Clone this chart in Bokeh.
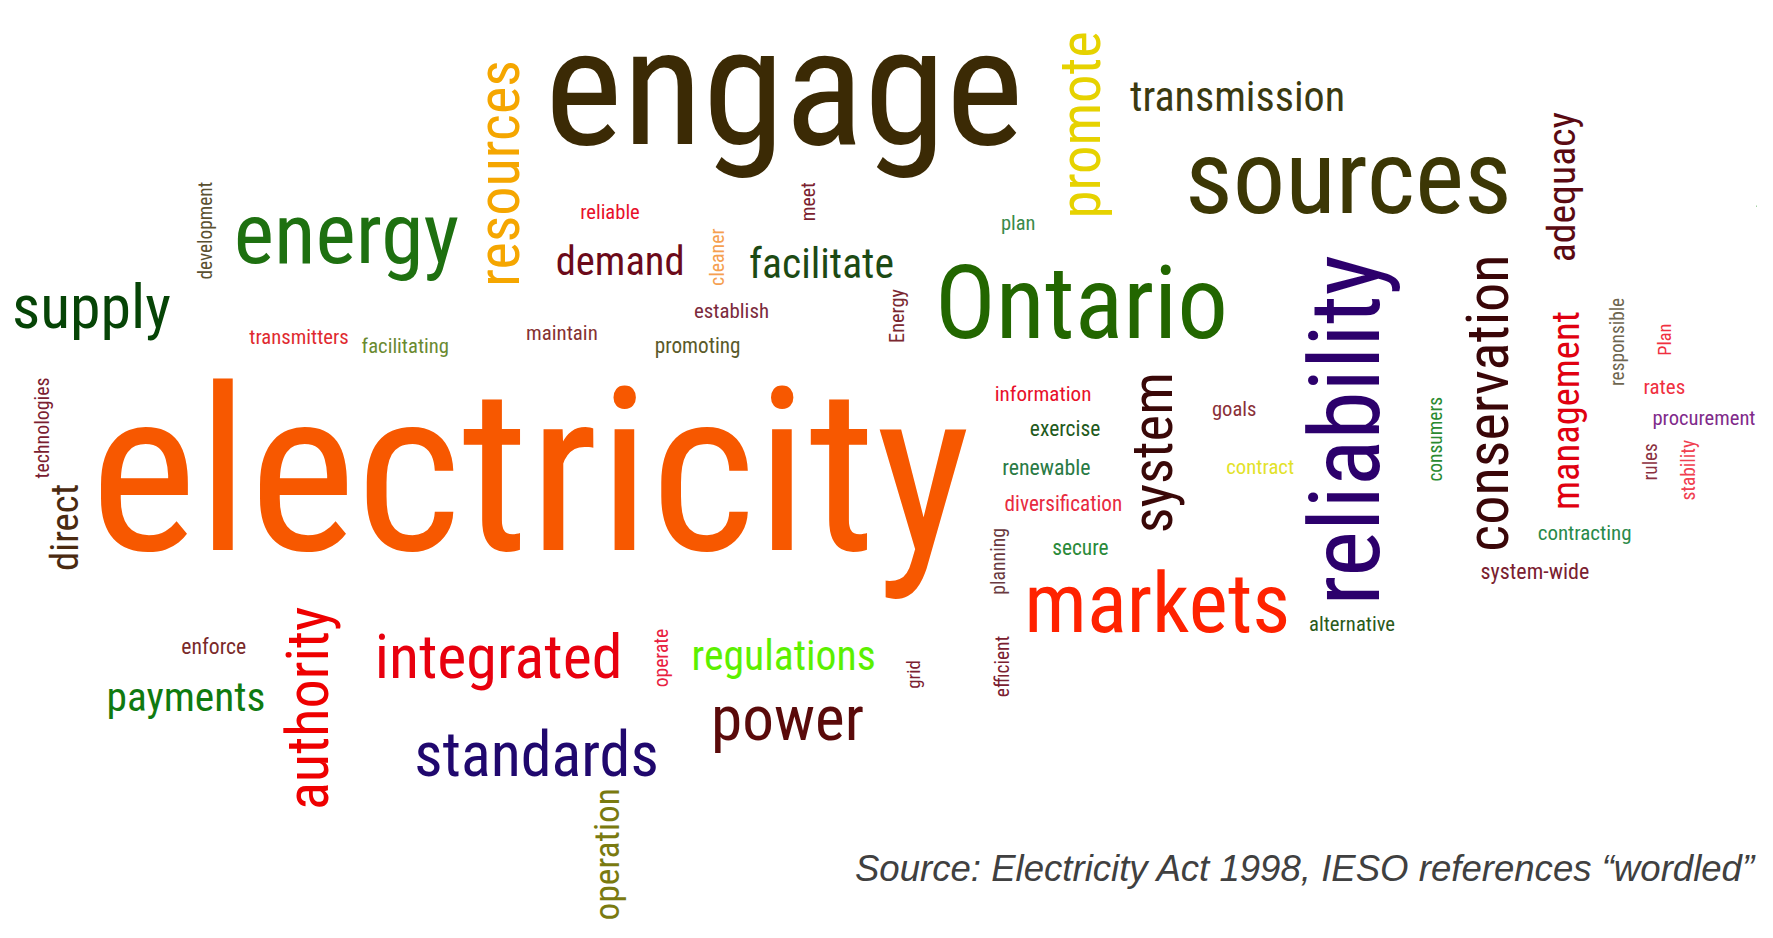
import math
from bokeh.plotting import figure
from bokeh.models import ColumnDataSource, Range1d
from bokeh.core.properties import value
from bokeh.embed import file_html
from bokeh.resources import INLINE

# ---- word cloud content ----
h_words = ["engage", "electricity", "sources", "transmission", "Ontario", "energy", "supply",
           "demand", "facilitate", "reliable", "transmitters", "facilitating", "maintain",
           "establish", "promoting", "plan", "information", "exercise", "renewable",
           "diversification", "goals", "contract", "secure", "markets", "alternative",
           "contracting", "system-wide", "rates", "procurement", "integrated", "regulations",
           "power", "standards", "payments", "enforce"]
h_colors = ["#3b2a05", "#f75800", "#3c3705", "#3b3a10", "#226600", "#1e7010", "#064406",
            "#6b0a1a", "#1c4a14", "#e8102a", "#e02a30", "#6a8a30", "#863232",
            "#7b2a3c", "#5a5a2a", "#3a8a4a", "#e8102a", "#1f5a20", "#2a7a45",
            "#e82a40", "#8a3038", "#e2e22a", "#2a8a3a", "#ff2200", "#2a5a1a",
            "#2a8a4a", "#7a2030", "#f03040", "#802a8a", "#e8000e", "#5cf000",
            "#5a0a0a", "#20086e", "#107a10", "#7a2a2a"]
# layout in reference pixels (1568-wide reference): centre x, centre of x-height band, advance
h_cx = [693, 468.5, 1192, 1094, 956, 306, 80.4, 548, 726, 539, 264, 358, 496.5, 646.5, 616.5,
        900, 922, 941.5, 925, 940, 1091, 1114, 955, 1023, 1195.3, 1401, 1357, 1471.5, 1506.5,
        440.5, 692.6, 696, 474, 164, 188.6]
h_cy = [83, 426.5, 161, 87, 272.5, 209.5, 274, 231.6, 234, 188, 298.5, 306.5, 294.8, 275.7,
        306, 197.5, 348.5, 379.5, 414, 445.5, 362.5, 413.5, 485, 536.7, 552, 471.7, 505.5,
        343, 370, 583, 581, 637.5, 669, 617.7, 572.4]
h_len = [414, 767, 283, 188, 258, 196, 137, 112, 126, 52, 88, 76, 63, 65, 75, 30, 84, 61, 77,
         103, 38.5, 60, 49, 234, 75.4, 82.3, 94, 37, 90, 217.7, 160.7, 133, 213.8, 138.7, 56]

v_words = ["resources", "promote", "development", "meet", "cleaner", "Energy", "reliability",
           "system", "conservation", "adequacy", "management", "consumers", "responsible",
           "Plan", "rules", "stability", "direct", "technologies", "authority", "operation",
           "operate", "grid", "efficient", "planning"]
v_colors = ["#f5a600", "#e6d200", "#5a5030", "#7b1f30", "#f5a050", "#7a2830", "#2c006c",
            "#3a0808", "#3a0608", "#5a0a12", "#e00010", "#2a8a30", "#6e6650",
            "#f03040", "#8a3040", "#f04050", "#4a2a10", "#7a2030", "#ee0000", "#7a7a10",
            "#e82040", "#7a2030", "#7a2030", "#6a3a40"]
v_cx = [443.5, 957.4, 182.5, 715.4, 634.9, 793.5, 1194.3, 1021, 1318, 1382, 1386, 1270,
        1430.8, 1472.7, 1460, 1494, 58.3, 38.1, 273.9, 537.9, 585, 808.9, 886.6, 883.2]
v_cy = [153, 110, 203.5, 178, 227, 279, 380, 400, 356, 165, 362.6, 388, 302, 300, 408, 415.5,
        466, 378, 626, 755, 581.5, 596, 589, 496]
v_len = [197.5, 164, 85, 34, 50, 47, 307, 140, 258, 130, 174, 73.5, 76.5, 28, 32.5, 53, 76.5,
         87, 178.4, 116, 51.6, 25, 54.4, 58]

caption = "Source: Electricity Act 1998, IESO references \u201cwordled\u201d"

# ---- rendering helpers ----
S = 1773 / 1568
FONT = "Roboto Condensed"
K_WIDE, K_NARROW = 0.877, 0.95   # condensed advance relative to Roboto regular
NARROW = set("iljtrf")
XH = 0.528    # x-height / em
CORR = 0.31   # empirical shift of Bokeh's alphabetic anchor (fraction of font size)
ROBOTO = dict(a=544, b=549, c=511, d=551, e=517, f=300, g=551, h=538, i=237, j=237, k=507,
              l=237, m=855, n=539, o=557, p=549, q=551, r=331, s=504, t=319, u=538, v=473,
              w=733, x=480, y=462, z=480, O=690, E=560, P=630)
ROBOTO["-"] = 270


def em_width(word):
    tot = 0.0
    for ch in word:
        k = K_NARROW if ch in NARROW else K_WIDE
        tot += ROBOTO.get(ch, 540) / 1000.0 * k
    return tot


xs, ys, txt, cols, sizes, angs = [], [], [], [], [], []
for w, c, cx, cy, ln in zip(h_words, h_colors, h_cx, h_cy, h_len):
    fs = ln * S / em_width(w)
    xs.append(cx * S)
    ys.append(cy * S + XH * fs / 2 - CORR * fs)
    txt.append(w); cols.append(c); sizes.append(f"{fs:.1f}px"); angs.append(0.0)
for w, c, cx, cy, ln in zip(v_words, v_colors, v_cx, v_cy, v_len):
    fs = ln * S / em_width(w)
    xs.append(cx * S + XH * fs / 2 - CORR * fs)
    ys.append(cy * S)
    txt.append(w); cols.append(c); sizes.append(f"{fs:.1f}px"); angs.append(math.pi / 2)

src = ColumnDataSource(dict(x=xs, y=ys, text=txt, color=cols, size=sizes, angle=angs))

p = figure(width=1757, height=922, output_backend="svg", toolbar_location=None,
           x_range=Range1d(0, 1757), y_range=Range1d(922, 0), min_border=0)
p.axis.visible = False
p.grid.visible = False
p.outline_line_color = None
p.background_fill_color = "white"
p.border_fill_color = "white"

p.text(x="x", y="y", text="text", angle="angle", text_color="color",
       text_font_size="size", text_font=value(FONT), text_align="center",
       text_baseline="alphabetic", source=src)

# small dashed artefact on the right edge
p.line([1553 * S, 1568 * S], [182 * S, 182 * S], line_color="#3aa03a", line_dash="4 3",
       line_width=1.5)

CAP_FS = 36.6
p.text(x=[min(1563.5 * S, 1755)], y=[778 * S - CORR * CAP_FS], text=[caption],
       text_color="#404040", text_font=value("Liberation Sans"), text_font_style="italic",
       text_font_size=f"{CAP_FS}px", text_align="right", text_baseline="alphabetic")

open("out.html", "w").write(file_html(p, INLINE))
